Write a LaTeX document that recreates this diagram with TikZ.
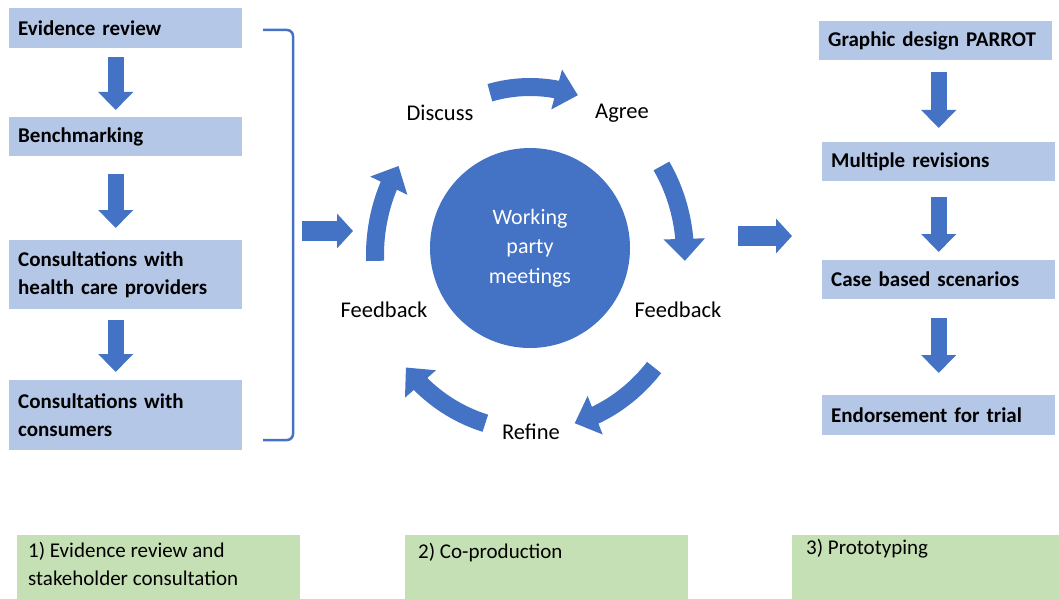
\documentclass[tikz,border=0pt]{standalone}
\usepackage{fontspec}
\setmainfont{Carlito}
\usepackage{tikz}
\usetikzlibrary{arrows.meta,bending,positioning}
\definecolor{boxblue}{HTML}{B4C7E7}
\definecolor{arrowblue}{HTML}{4472C4}
\definecolor{phasegreen}{HTML}{C5E0B4}
\tikzset{
  stepbox/.style={fill=boxblue, anchor=north west, text width=215pt, inner xsep=9pt,
    align=left, font=\bfseries\fontsize{21}{28}\selectfont},
  phasetext/.style={anchor=north west, align=left, inner sep=0pt,
    font=\fontsize{21}{28}\selectfont},
  cyclelabel/.style={font=\fontsize{22.5}{26}\selectfont},
  downarrow/.style={draw=arrowblue, line width=16pt, -{Triangle[width=34pt,length=18pt]}},
  ringarrow/.style={draw=arrowblue, line width=18pt, -{Triangle[width=40pt,length=22pt]}},
}

\begin{document}
\begin{tikzpicture}[x=1pt, y=1pt]
  \useasboundingbox (0,0) rectangle (1059,-599);
  % left column
  \node [stepbox, minimum height=40pt] (evid) at (9,-8) {Evidence review};
  \node [stepbox, minimum height=39pt] (bench) at (9,-117) {Benchmarking};
  \node [stepbox, minimum height=69pt] (hcp) at (9,-240) {Consultations with\\health care providers};
  \node [stepbox, minimum height=70pt] (cons) at (9,-380) {Consultations with\\consumers};
  \draw [downarrow] ([xshift=-10pt, yshift=-9pt]evid.south) -- ([xshift=-10pt, yshift=7pt]bench.north);
  \draw [downarrow] ([xshift=-10pt, yshift=-18pt]bench.south) -- ([xshift=-10pt, yshift=12pt]hcp.north);
  \draw [downarrow] ([xshift=-10pt, yshift=-11pt]hcp.south) -- ([xshift=-10pt, yshift=8pt]cons.north);
  % bracket
  \coordinate (brtop) at (263,-30);
  \coordinate (brbot) at (263,-440);
  \draw [arrowblue, line width=2.5pt, rounded corners=6pt] (brtop) -- (293,-30) -- (293,-440) -- (brbot);
  % co-production cycle
  \node [circle, fill=arrowblue, minimum size=200pt, text=white, align=center,
         font=\fontsize{22}{29.5}\selectfont] (wpm) at (530,-248) {Working\\party\\meetings};
  \coordinate (ring) at (530,-255);
  \node [cyclelabel] (discuss) at (440,-113) {Discuss};
  \node [cyclelabel] (agree) at (622,-113) {Agree};
  \node [cyclelabel] (fbright) at (678,-310) {Feedback};
  \node [cyclelabel] (refine) at (531,-432) {Refine};
  \node [cyclelabel] (fbleft) at (384,-310) {Feedback};
  \draw [ringarrow] (ring) ++(105:155pt and 168pt) arc [start angle=105, end angle=72, x radius=155pt, y radius=168pt];
  \draw [ringarrow] (ring) ++(32:155pt and 168pt) arc [start angle=32, end angle=-2, x radius=155pt, y radius=168pt];
  \draw [ringarrow] (ring) ++(-40:162pt and 175pt) arc [start angle=-40, end angle=-74, x radius=162pt, y radius=175pt];
  \draw [ringarrow] (ring) ++(-106:162pt and 175pt) arc [start angle=-106, end angle=-140, x radius=162pt, y radius=175pt];
  \draw [ringarrow] (ring) ++(182:155pt and 168pt) arc [start angle=182, end angle=148, x radius=155pt, y radius=168pt];
  % arrows between stages
  \coordinate (inL) at (302,-231);
  \coordinate (inR) at (353,-231);
  \draw [draw=arrowblue, line width=20pt, -{Triangle[width=34pt,length=16pt]}] (inL) -- (inR);
  \coordinate (outL) at (738,-236);
  \coordinate (outR) at (792,-236);
  \draw [draw=arrowblue, line width=20pt, -{Triangle[width=34pt,length=16pt]}] (outL) -- (outR);
  % right column
  \node [stepbox, minimum height=39pt] (design) at (819,-21) {Graphic design PARROT};
  \node [stepbox, minimum height=39pt] (revis) at (822,-142) {Multiple revisions};
  \node [stepbox, minimum height=39pt] (cases) at (822,-260) {Case based scenarios};
  \node [stepbox, minimum height=40pt] (endorse) at (822,-395) {Endorsement for trial};
  \draw [downarrow] (design.south -| revis.north) ++(0,-12) -- ([yshift=14pt]revis.north);
  \draw [downarrow] ([yshift=-16pt]revis.south) -- ([yshift=8pt]cases.north);
  \draw [downarrow] ([yshift=-19pt]cases.south) -- ([yshift=22pt]endorse.north);
  % phases
  \fill [phasegreen] (17,-535) rectangle (300,-599);
  \fill [phasegreen] (405,-535) rectangle (688,-599);
  \fill [phasegreen] (792,-535) rectangle (1059,-599);
  \node [phasetext] (ph1) at (28,-542) {1) Evidence review and\\stakeholder consultation};
  \node [phasetext] (ph2) at (418,-543) {2) Co-production};
  \node [phasetext] (ph3) at (806,-539) {3) Prototyping};
\end{tikzpicture}
\end{document}
